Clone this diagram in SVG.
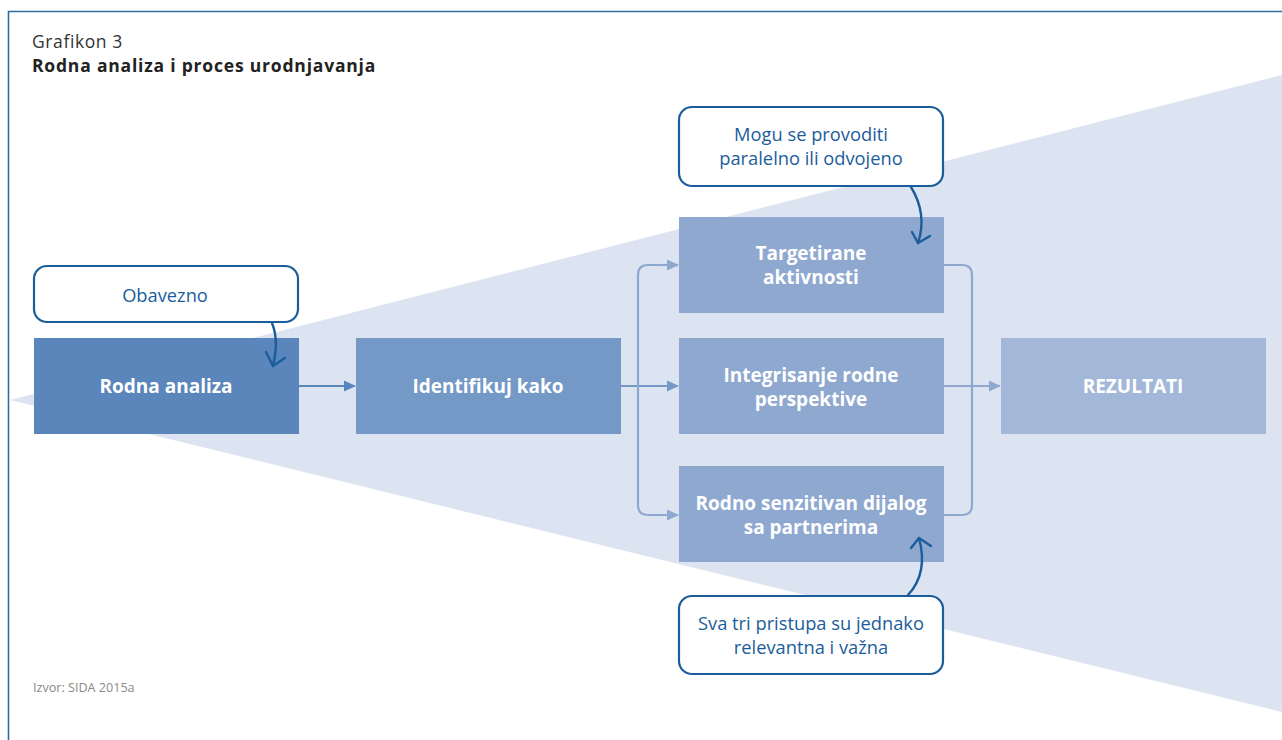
<svg xmlns="http://www.w3.org/2000/svg" width="1282" height="740" viewBox="0 0 1282 740">
<style>
.box text{font-family:"Open Sans","Noto Sans",sans-serif;font-weight:bold;font-size:19px;fill:#fff;text-anchor:middle}
.call rect{fill:#fff;stroke:#1b5d9b;stroke-width:2.2}
.call text{font-family:"Open Sans","Noto Sans",sans-serif;font-size:18.3px;fill:#1b5d9b;text-anchor:middle}
.cur{fill:none;stroke:#1b5d9b;stroke-width:2.4;stroke-linecap:round;stroke-linejoin:round}
.con{fill:none;stroke-width:2.2}
</style>
<defs>
<marker id="a1" markerWidth="12" markerHeight="12" refX="11" refY="6" orient="auto" markerUnits="userSpaceOnUse" viewBox="0 0 12 12"><path d="M0,0.5 L12,6 L0,11.5z" fill="#5b86bb"/></marker>
<marker id="a2" markerWidth="12" markerHeight="12" refX="11" refY="6" orient="auto" markerUnits="userSpaceOnUse" viewBox="0 0 12 12"><path d="M0,0.5 L12,6 L0,11.5z" fill="#7499c6"/></marker>
<marker id="a3" markerWidth="12" markerHeight="12" refX="11" refY="6" orient="auto" markerUnits="userSpaceOnUse" viewBox="0 0 12 12"><path d="M0,0.5 L12,6 L0,11.5z" fill="#8ea8d0"/></marker>
</defs>
<rect width="1282" height="740" fill="#fff"/>
<polygon points="10,400 1282,75 1282,712" fill="#dde4f1"/>
<path d="M8.5,740 V11.5 H1282" fill="none" stroke="#2a6ea6" stroke-width="1.6"/>
<text x="32" y="48" font-family="Open Sans,Noto Sans,sans-serif" font-size="17.5" letter-spacing="0.6" fill="#333">Grafikon 3</text>
<text x="32" y="72" font-family="Open Sans,Noto Sans,sans-serif" font-size="17.5" letter-spacing="0.8" font-weight="bold" fill="#222">Rodna analiza i proces urodnjavanja</text>
<text x="33" y="692" font-family="Open Sans,Noto Sans,sans-serif" font-size="12.6" fill="#8a8a8a">Izvor: SIDA 2015a</text>
<g id="connectors">
<path class="con" stroke="#5b86bb" d="M299,386 H355" marker-end="url(#a1)"/>
<path class="con" stroke="#7499c6" d="M621,386 H678" marker-end="url(#a2)"/>
<path class="con" stroke="#8ea8d0" d="M678,265 H648 Q638,265 638,275 V505 Q638,515 648,515 H678" marker-end="url(#a3)"/>
<path class="con" stroke="#8ea8d0" d="M660,265 L678,265" marker-end="url(#a3)"/>
<path class="con" stroke="#8ea8d0" d="M944,265 H962 Q972,265 972,275 V505 Q972,515 962,515 H944"/>
<path class="con" stroke="#8ea8d0" d="M944,386 H1000" marker-end="url(#a3)"/>
</g>
<g id="n-rodna" class="box"><rect x="34" y="338" width="265" height="96" fill="#5b86bb"/><text x="166" y="393">Rodna analiza</text></g>
<g id="n-ident" class="box"><rect x="356" y="338" width="265" height="96" fill="#7499c6"/><text x="488" y="393">Identifikuj kako</text></g>
<g id="n-target" class="box"><rect x="679" y="217" width="265" height="96" fill="#8ea8d0"/><text x="811" y="260">Targetirane</text><text x="811" y="284">aktivnosti</text></g>
<g id="n-integ" class="box"><rect x="679" y="338" width="265" height="96" fill="#8ea8d0"/><text x="811" y="382">Integrisanje rodne</text><text x="811" y="406">perspektive</text></g>
<g id="n-dijalog" class="box"><rect x="679" y="466" width="265" height="96" fill="#8ea8d0"/><text x="811" y="510">Rodno senzitivan dijalog</text><text x="811" y="534">sa partnerima</text></g>
<g id="n-rez" class="box"><rect x="1001" y="338" width="265" height="96" fill="#a3b7d9"/><text x="1133" y="393">REZULTATI</text></g>
<g id="c-obavezno" class="call"><rect x="34" y="266" width="264" height="56" rx="13"/><text x="165" y="302">Obavezno</text></g>
<g id="c-mogu" class="call"><rect x="679" y="107" width="264" height="79" rx="13"/><text x="811" y="141">Mogu se provoditi</text><text x="811" y="165">paralelno ili odvojeno</text></g>
<g id="c-sva" class="call"><rect x="679" y="596" width="264" height="78" rx="13"/><text x="811" y="630">Sva tri pristupa su jednako</text><text x="811" y="654">relevantna i važna</text></g>
<g id="callout-arrows">
<path class="cur" d="M272,323 C278,338 276,352 273,366"/>
<path class="cur" d="M266,352 L273,366 L285,358"/>
<path class="cur" d="M911,187 C922,205 924,225 918,243"/>
<path class="cur" d="M912,232 L918,243 L930,236"/>
<path class="cur" d="M908,595 C922,580 925,560 919,538"/>
<path class="cur" d="M911,548 L919,538 L931,546"/>
</g>
</svg>
